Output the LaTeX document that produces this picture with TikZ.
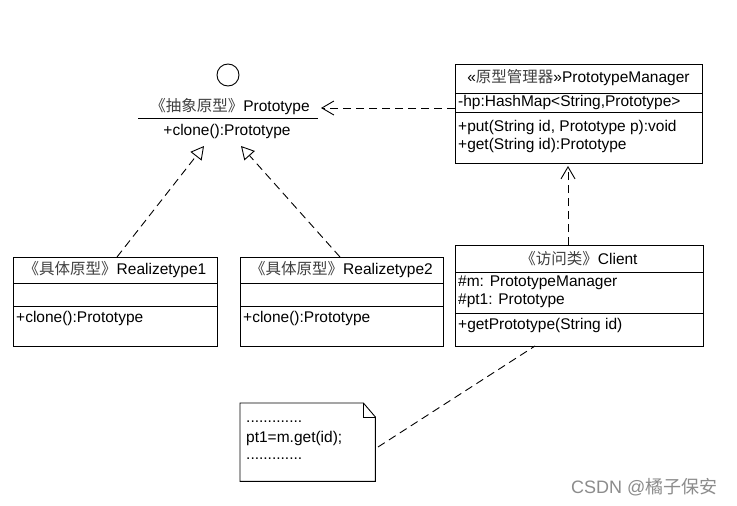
\documentclass[tikz,border=0pt]{standalone}
\usepackage{fontspec}
\setmainfont{Liberation Sans}
\newfontfamily\cjk{Noto Sans CJK SC}
\usetikzlibrary{arrows.meta}
\newcommand{\zh}[1]{{\cjk\color{black!75}#1}}
\tikzset{
  classbox/.style={draw, line width=0.9pt, anchor=north west, inner sep=0pt},
  txt/.style={inner sep=0pt, font=\fontsize{15.5}{18}\selectfont},
  ltxt/.style={txt, anchor=west},
  sep/.style={line width=0.9pt},
  dep/.style={line width=0.9pt, dash pattern=on 8pt off 5pt},
  realize/.style={dep, -{Triangle[open, length=13pt, width=14pt, line width=0.9pt]}},
  useto/.style={dep, -{Straight Barb[length=12pt, width=14pt, line width=0.9pt]}},
}
\begin{document}
\begin{tikzpicture}[x=1pt, y=-1pt]
\useasboundingbox[fill=white] (0,0) rectangle (737,506);

% Prototype interface
\node[draw, circle, line width=0.9pt, minimum size=22pt, inner sep=0pt] (circ) at (228,75) {};
\node[txt] (ptitle) at (230,107) {\zh{《抽象原型》}Prototype};
\draw[sep] (138,118) -- (318,118);
\node[txt] (pclone) at (227,131) {+clone():Prototype};
\coordinate (pl) at (204,146);
\coordinate (pr) at (241,146);
\coordinate (pe) at (321,108);

% PrototypeManager
\node[classbox, minimum width=247pt, minimum height=99pt] (pm) at (455,64) {};
\draw[sep] (455,93) -- (702,93);
\draw[sep] (455,112) -- (702,112);
\node[txt] (pmh) at (578.5,78) {«\zh{原型管理器}»PrototypeManager};
\node[ltxt] (pma) at (458,102) {-hp:HashMap<String,Prototype>};
\node[ltxt] (pmm1) at (458,127) {+put(String id, Prototype p):void};
\node[ltxt] (pmm2) at (458,145) {+get(String id):Prototype};

% Realizetype1
\node[classbox, minimum width=204pt, minimum height=89pt] (r1) at (13,257) {};
\draw[sep] (13,283) -- (217,283);
\draw[sep] (13,306) -- (217,306);
\node[txt] (r1h) at (115,270) {\zh{《具体原型》}Realizetype1};
\node[ltxt] (r1m) at (16,318) {+clone():Prototype};

% Realizetype2
\node[classbox, minimum width=203pt, minimum height=89pt] (r2) at (240,257) {};
\draw[sep] (240,283) -- (443,283);
\draw[sep] (240,306) -- (443,306);
\node[txt] (r2h) at (341.5,270) {\zh{《具体原型》}Realizetype2};
\node[ltxt] (r2m) at (243,318) {+clone():Prototype};

% Client
\node[classbox, minimum width=248pt, minimum height=101pt] (cl) at (455,245) {};
\draw[sep] (455,272) -- (703,272);
\draw[sep] (455,313) -- (703,313);
\node[txt] (clh) at (579,259) {\zh{《访问类》}Client};
\node[ltxt] (cla1) at (458,283) {\#m: PrototypeManager};
\node[ltxt] (cla2) at (458,301) {\#pt1: Prototype};
\node[ltxt] (clm) at (458,325) {+getPrototype(String id)};

% Note
\node[inner sep=0pt, minimum width=135pt, minimum height=78pt, anchor=north west] (note) at (240,403) {};
\draw[line width=0.9pt] (note.north west) -- ([xshift=-12pt]note.north east) -- ([yshift=-14pt]note.north east) -- (note.south east) -- (note.south west) -- cycle;
\draw[line width=0.9pt] ([xshift=-12pt]note.north east) -- ([xshift=-12pt, yshift=-14pt]note.north east) -- ([yshift=-14pt]note.north east);
\node[ltxt] (n1) at (246,422) {.............};
\node[ltxt] (n2) at (246,438) {pt1=m.get(id);};
\node[ltxt] (n3) at (246,459) {.............};
\coordinate (ne) at (378,447);
\coordinate (cb) at (535,346);

% connectors
\draw[realize] (r1.north -| 117,0) -- (pl);
\draw[realize] (r2.north -| 340,0) -- (pr);
\draw[useto] (pm.west |- 0,108) -- (pe);
\draw[useto] (cl.north -| 568,0) -- (568,166);
\draw[dep] (ne) -- (cb);

% watermark
\node[inner sep=0pt, anchor=west, text=black!45, font=\fontsize{18}{20}\selectfont] (wm) at (571,487) {CSDN @{\cjk 橘子保安}};
\end{tikzpicture}
\end{document}
